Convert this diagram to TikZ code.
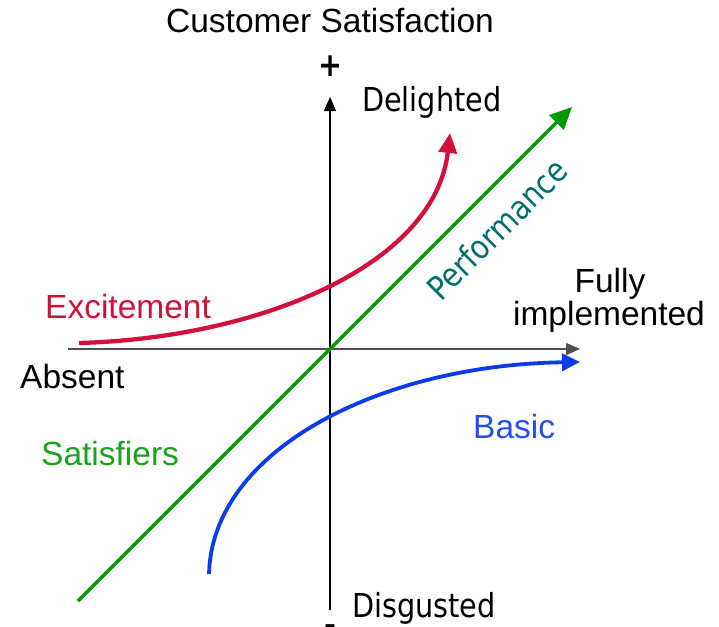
\documentclass[tikz,border=0pt]{standalone}
\usepackage{fontspec}
\setmainfont{Liberation Sans}
\newfontfamily\humanist[FakeStretch=0.87]{DejaVu Sans}
\usetikzlibrary{arrows.meta}
\definecolor{excred}{RGB}{210,16,58}
\definecolor{perfgreen}{RGB}{0,153,0}
\definecolor{basicblue}{RGB}{10,60,235}
\definecolor{perfteal}{RGB}{0,110,110}
\definecolor{axisgray}{RGB}{80,80,80}
\tikzset{
  lbl/.style={inner sep=0pt, font=\fontsize{33.5}{34}\selectfont},
  hlbl/.style={inner sep=0pt, font=\humanist\fontsize{33}{34}\selectfont},
  signlbl/.style={inner sep=0pt, font=\humanist\bfseries\fontsize{33}{34}\selectfont},
  axisline/.style={line width=1.5pt, -{Triangle[length=14pt,width=12pt]}},
}
\begin{document}
\begin{tikzpicture}[x=1pt,y=-1pt]
  \useasboundingbox (0,0) rectangle (719,626);

  % axes
  \coordinate (ybot) at (330,610);
  \coordinate (ytop) at (330,97);
  \coordinate (xleft) at (68,349);
  \coordinate (xright) at (580,349);
  \draw[axisline, axisgray] (xleft) -- (xright);
  \draw[axisline, black] (ybot) -- (ytop);

  % performance (linear) line
  \coordinate (gstart) at (78,601);
  \coordinate (gend) at (572,107);
  \draw[line width=3.5pt, perfgreen, -{Triangle[length=22pt,width=20pt]}] (gstart) -- (gend);

  % excitement curve
  \coordinate (rstart) at (79,343);
  \coordinate (rend) at (450,133);
  \draw[line width=4.3pt, excred, -{Triangle[length=20pt,width=18pt]}]
    (rstart) .. controls (260,338) and (435,265) .. (rend);

  % basic curve
  \coordinate (bstart) at (209,574);
  \coordinate (bend) at (580,362);
  \draw[line width=3.8pt, basicblue, -{Triangle[length=18pt,width=17pt]}]
    (bstart) .. controls (212,450) and (380,365) .. (bend);

  % axis labels
  \node[lbl, anchor=base] (title) at (330,33) {Customer Satisfaction};
  \node[signlbl, anchor=center] (plus) at (331,66) {+};
  \node[signlbl, anchor=base] (minus) at (330,636) {-};
  \node[hlbl, anchor=base west] (delighted) at (362,111) {Delighted};
  \node[hlbl, anchor=base west] (disgusted) at (352,617) {Disgusted};
  \node[lbl, anchor=base] (fully) at (610,292) {Fully};
  \node[lbl, anchor=base] (impl) at (609,325) {implemented};
  \node[lbl, anchor=base west] (absent) at (20,388) {Absent};

  % curve labels
  \node[lbl, anchor=base west, text=excred] (exc) at (45,318) {Excitement};
  \node[lbl, anchor=base west, text=perfgreen!90!white] (sat) at (41,465) {Satisfiers};
  \node[lbl, anchor=base west, text=basicblue!90!white] (basic) at (473,438) {Basic};
  \node[hlbl, anchor=center, rotate=45, text=perfteal] (perf) at (497,229) {Performance};
\end{tikzpicture}
\end{document}
